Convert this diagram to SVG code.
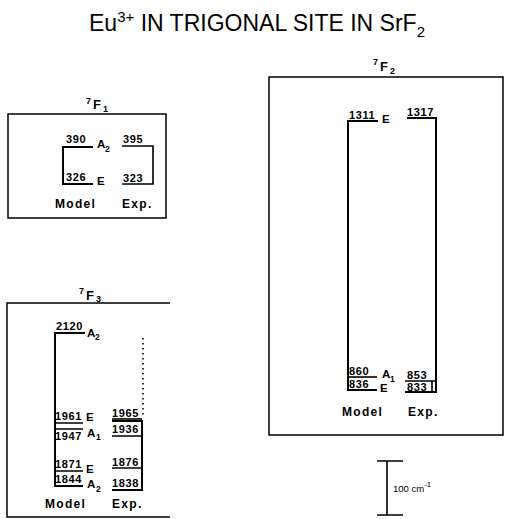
<svg xmlns="http://www.w3.org/2000/svg" width="505" height="519" viewBox="0 0 505 519">
<style>
text{font-family:"Liberation Sans",Arial,Helvetica,sans-serif;fill:#000}
.t{font-size:23px}
.n{font-size:11px;font-weight:bold;letter-spacing:0.6px}
.s{font-size:11.5px;font-weight:bold}
.ss{font-size:8.5px;font-weight:bold}
.m{font-size:12px;font-weight:bold;letter-spacing:1.3px}
.h{font-size:13px;font-weight:bold}
.hs{font-size:9px;font-weight:bold}
.sc{font-size:9.5px}
.box{fill:none;stroke:#000;stroke-width:1.5}
.ln{fill:none;stroke:#000;stroke-width:1.6}
.v{fill:none;stroke:#000;stroke-width:2}
.dot{fill:none;stroke:#000;stroke-width:1.6;stroke-dasharray:1.6 3.4}
</style>
<g id="title"><text class="t" x="89" y="31">Eu<tspan font-size="15" dy="-9">3+</tspan><tspan dy="9"> IN TRIGONAL SITE IN SrF</tspan><tspan font-size="15" dy="6">2</tspan></text></g>
<g id="F1">
<rect class="box" x="8" y="114" width="158" height="104"/>
<path class="v" d="M93,147H63V184H93"/>
<path class="ln" d="M122,146H153V184H122"/>
<text class="hs" x="86" y="104">7</text><text class="h" x="93" y="109">F</text><text class="hs" x="103" y="112">1</text>
<text class="n" x="66" y="143">390</text><text class="s" x="97" y="148">A</text><text class="ss" x="105" y="152">2</text>
<text class="n" x="66" y="181">326</text><text class="s" x="97" y="185">E</text>
<text class="n" x="123" y="143">395</text>
<text class="n" x="123" y="182">323</text>
<text class="m" x="55" y="208">Model</text><text class="m" x="122" y="208">Exp.</text>
</g>
<g id="F2">
<rect class="box" x="269" y="77" width="234" height="358"/>
<path class="v" d="M378,121H348V390H377"/>
<path class="ln" d="M348,377H377"/>
<path class="v" d="M407,118H436V392H405"/>
<path class="ln" d="M405,381H435M432,381V392"/>
<text class="hs" x="373" y="65">7</text><text class="h" x="380" y="71">F</text><text class="hs" x="390" y="74">2</text>
<text class="n" x="349" y="119">1311</text><text class="s" x="382" y="123">E</text>
<text class="n" x="407" y="116">1317</text>
<text class="n" x="349" y="375">860</text><text class="s" x="382" y="378">A</text><text class="ss" x="390" y="382">1</text>
<text class="n" x="349" y="388">836</text><text class="s" x="380" y="392">E</text>
<text class="n" x="407" y="379">853</text>
<text class="n" x="407" y="391">833</text>
<text class="m" x="342" y="416">Model</text><text class="m" x="408" y="416">Exp.</text>
</g>
<g id="F3">
<path class="box" d="M170,303H7V517H170"/>
<path class="v" d="M85,333H55V486H83"/>
<path class="ln" d="M55,423H83M55,429H83M55,471H83"/>
<path class="dot" d="M143,338V417"/>
<path class="ln" d="M112,419H142"/>
<path class="v" d="M112,421H142V490H112"/>
<path class="ln" d="M112,436H142M112,468H142"/>
<text class="hs" x="79" y="294">7</text><text class="h" x="86" y="300">F</text><text class="hs" x="96" y="302">3</text>
<text class="n" x="56" y="330">2120</text><text class="s" x="87" y="337">A</text><text class="ss" x="95" y="340">2</text>
<text class="n" x="55" y="420">1961</text><text class="s" x="86" y="421">E</text>
<text class="n" x="55" y="440">1947</text><text class="s" x="87" y="437">A</text><text class="ss" x="96" y="440">1</text>
<text class="n" x="55" y="468">1871</text><text class="s" x="86" y="473">E</text>
<text class="n" x="55" y="483">1844</text><text class="s" x="87" y="488">A</text><text class="ss" x="96" y="492">2</text>
<text class="n" x="112" y="417">1965</text>
<text class="n" x="112" y="433">1936</text>
<text class="n" x="112" y="466">1876</text>
<text class="n" x="112" y="487">1838</text>
<text class="m" x="45" y="508">Model</text><text class="m" x="112" y="508">Exp.</text>
</g>
<g id="scale">
<path class="ln" d="M377,461H403M387,461V515M377,515H403"/>
<text class="sc" x="393" y="492">100 cm<tspan font-size="8" dy="-5">-1</tspan></text>
</g>
<g id="connectors"/>
</svg>
